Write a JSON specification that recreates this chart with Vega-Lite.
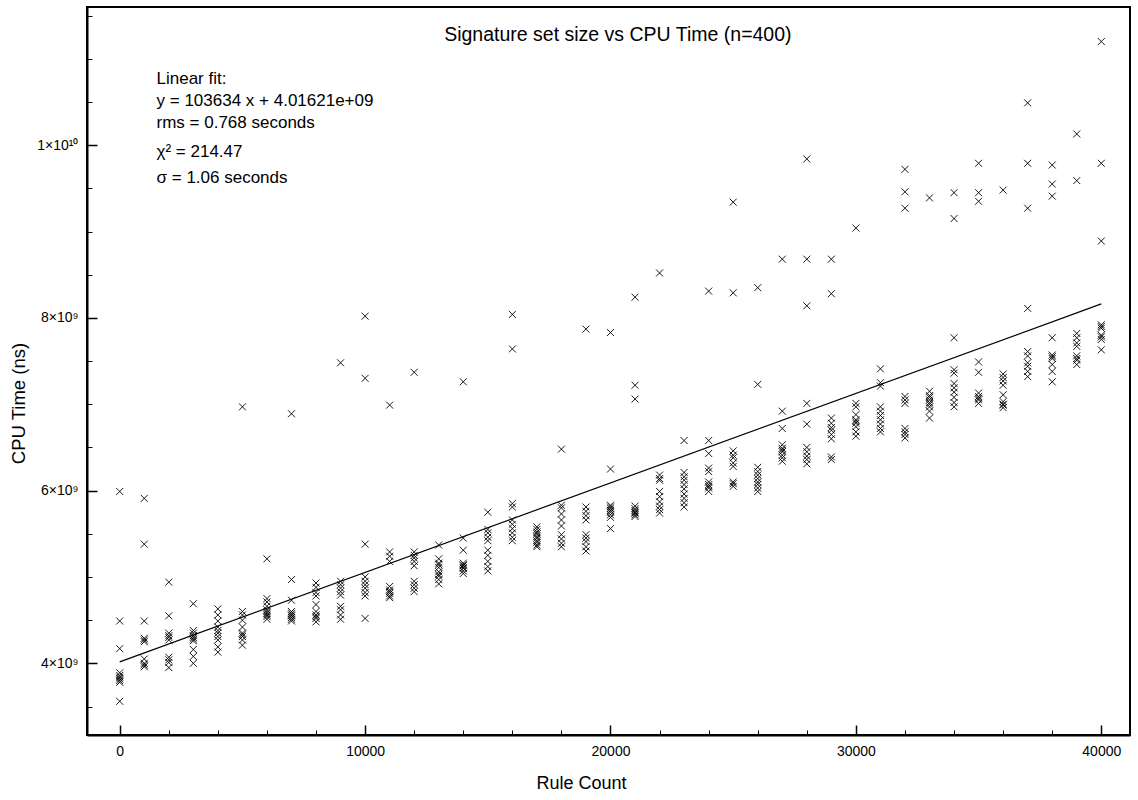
{
  "$schema": "https://vega.github.io/schema/vega-lite/v6.json",
  "width": 1043,
  "height": 728,
  "autosize": "none",
  "padding": {"left": 87, "top": 7, "right": 8, "bottom": 65},
  "background": "white",
  "config": {
    "font": "Liberation Sans",
    "view": {"stroke": "black", "strokeWidth": 2},
    "axis": {"grid": false, "labelColor": "black", "titleColor": "black", "tickColor": "black", "domainColor": "black", "labelFont": "Liberation Sans", "titleFont": "Liberation Sans", "titleFontWeight": "normal"}
  },
  "datasets": {
    "runs": [
      {"rules":0,"cpu_ns":5.99e9},{"rules":0,"cpu_ns":4.49e9},{"rules":0,"cpu_ns":4.17e9},{"rules":0,"cpu_ns":3.89e9},{"rules":0,"cpu_ns":3.86e9},{"rules":0,"cpu_ns":3.84e9},{"rules":0,"cpu_ns":3.82e9},{"rules":0,"cpu_ns":3.80e9},{"rules":0,"cpu_ns":3.78e9},{"rules":0,"cpu_ns":3.56e9},
      {"rules":1000,"cpu_ns":5.91e9},{"rules":1000,"cpu_ns":5.38e9},{"rules":1000,"cpu_ns":4.49e9},{"rules":1000,"cpu_ns":4.29e9},{"rules":1000,"cpu_ns":4.27e9},{"rules":1000,"cpu_ns":4.25e9},{"rules":1000,"cpu_ns":4.05e9},{"rules":1000,"cpu_ns":4.00e9},{"rules":1000,"cpu_ns":3.98e9},{"rules":1000,"cpu_ns":3.96e9},
      {"rules":2000,"cpu_ns":4.94e9},{"rules":2000,"cpu_ns":4.55e9},{"rules":2000,"cpu_ns":4.35e9},{"rules":2000,"cpu_ns":4.32e9},{"rules":2000,"cpu_ns":4.30e9},{"rules":2000,"cpu_ns":4.27e9},{"rules":2000,"cpu_ns":4.07e9},{"rules":2000,"cpu_ns":4.04e9},{"rules":2000,"cpu_ns":4.01e9},{"rules":2000,"cpu_ns":3.95e9},
      {"rules":3000,"cpu_ns":4.69e9},{"rules":3000,"cpu_ns":4.38e9},{"rules":3000,"cpu_ns":4.35e9},{"rules":3000,"cpu_ns":4.32e9},{"rules":3000,"cpu_ns":4.30e9},{"rules":3000,"cpu_ns":4.28e9},{"rules":3000,"cpu_ns":4.26e9},{"rules":3000,"cpu_ns":4.16e9},{"rules":3000,"cpu_ns":4.08e9},{"rules":3000,"cpu_ns":4.00e9},
      {"rules":4000,"cpu_ns":4.63e9},{"rules":4000,"cpu_ns":4.56e9},{"rules":4000,"cpu_ns":4.49e9},{"rules":4000,"cpu_ns":4.42e9},{"rules":4000,"cpu_ns":4.38e9},{"rules":4000,"cpu_ns":4.35e9},{"rules":4000,"cpu_ns":4.31e9},{"rules":4000,"cpu_ns":4.27e9},{"rules":4000,"cpu_ns":4.19e9},{"rules":4000,"cpu_ns":4.13e9},
      {"rules":5000,"cpu_ns":6.97e9},{"rules":5000,"cpu_ns":4.60e9},{"rules":5000,"cpu_ns":4.56e9},{"rules":5000,"cpu_ns":4.50e9},{"rules":5000,"cpu_ns":4.42e9},{"rules":5000,"cpu_ns":4.35e9},{"rules":5000,"cpu_ns":4.33e9},{"rules":5000,"cpu_ns":4.31e9},{"rules":5000,"cpu_ns":4.27e9},{"rules":5000,"cpu_ns":4.21e9},
      {"rules":6000,"cpu_ns":5.21e9},{"rules":6000,"cpu_ns":4.75e9},{"rules":6000,"cpu_ns":4.71e9},{"rules":6000,"cpu_ns":4.66e9},{"rules":6000,"cpu_ns":4.62e9},{"rules":6000,"cpu_ns":4.60e9},{"rules":6000,"cpu_ns":4.58e9},{"rules":6000,"cpu_ns":4.56e9},{"rules":6000,"cpu_ns":4.54e9},{"rules":6000,"cpu_ns":4.51e9},
      {"rules":7000,"cpu_ns":6.89e9},{"rules":7000,"cpu_ns":4.97e9},{"rules":7000,"cpu_ns":4.73e9},{"rules":7000,"cpu_ns":4.60e9},{"rules":7000,"cpu_ns":4.58e9},{"rules":7000,"cpu_ns":4.56e9},{"rules":7000,"cpu_ns":4.55e9},{"rules":7000,"cpu_ns":4.53e9},{"rules":7000,"cpu_ns":4.51e9},{"rules":7000,"cpu_ns":4.49e9},
      {"rules":8000,"cpu_ns":4.93e9},{"rules":8000,"cpu_ns":4.88e9},{"rules":8000,"cpu_ns":4.82e9},{"rules":8000,"cpu_ns":4.78e9},{"rules":8000,"cpu_ns":4.68e9},{"rules":8000,"cpu_ns":4.60e9},{"rules":8000,"cpu_ns":4.56e9},{"rules":8000,"cpu_ns":4.54e9},{"rules":8000,"cpu_ns":4.52e9},{"rules":8000,"cpu_ns":4.48e9},
      {"rules":9000,"cpu_ns":7.48e9},{"rules":9000,"cpu_ns":4.95e9},{"rules":9000,"cpu_ns":4.91e9},{"rules":9000,"cpu_ns":4.87e9},{"rules":9000,"cpu_ns":4.83e9},{"rules":9000,"cpu_ns":4.79e9},{"rules":9000,"cpu_ns":4.66e9},{"rules":9000,"cpu_ns":4.62e9},{"rules":9000,"cpu_ns":4.56e9},{"rules":9000,"cpu_ns":4.51e9},
      {"rules":10000,"cpu_ns":8.02e9},{"rules":10000,"cpu_ns":7.30e9},{"rules":10000,"cpu_ns":5.38e9},{"rules":10000,"cpu_ns":5.00e9},{"rules":10000,"cpu_ns":4.95e9},{"rules":10000,"cpu_ns":4.91e9},{"rules":10000,"cpu_ns":4.87e9},{"rules":10000,"cpu_ns":4.82e9},{"rules":10000,"cpu_ns":4.78e9},{"rules":10000,"cpu_ns":4.52e9},
      {"rules":11000,"cpu_ns":6.99e9},{"rules":11000,"cpu_ns":5.29e9},{"rules":11000,"cpu_ns":5.24e9},{"rules":11000,"cpu_ns":5.18e9},{"rules":11000,"cpu_ns":4.89e9},{"rules":11000,"cpu_ns":4.85e9},{"rules":11000,"cpu_ns":4.83e9},{"rules":11000,"cpu_ns":4.81e9},{"rules":11000,"cpu_ns":4.78e9},{"rules":11000,"cpu_ns":4.76e9},
      {"rules":12000,"cpu_ns":7.37e9},{"rules":12000,"cpu_ns":5.29e9},{"rules":12000,"cpu_ns":5.25e9},{"rules":12000,"cpu_ns":5.22e9},{"rules":12000,"cpu_ns":5.18e9},{"rules":12000,"cpu_ns":5.13e9},{"rules":12000,"cpu_ns":4.95e9},{"rules":12000,"cpu_ns":4.91e9},{"rules":12000,"cpu_ns":4.87e9},{"rules":12000,"cpu_ns":4.83e9},
      {"rules":13000,"cpu_ns":5.37e9},{"rules":13000,"cpu_ns":5.21e9},{"rules":13000,"cpu_ns":5.16e9},{"rules":13000,"cpu_ns":5.14e9},{"rules":13000,"cpu_ns":5.11e9},{"rules":13000,"cpu_ns":5.06e9},{"rules":13000,"cpu_ns":5.03e9},{"rules":13000,"cpu_ns":5.01e9},{"rules":13000,"cpu_ns":4.97e9},{"rules":13000,"cpu_ns":4.92e9},
      {"rules":14000,"cpu_ns":7.26e9},{"rules":14000,"cpu_ns":5.45e9},{"rules":14000,"cpu_ns":5.31e9},{"rules":14000,"cpu_ns":5.16e9},{"rules":14000,"cpu_ns":5.14e9},{"rules":14000,"cpu_ns":5.13e9},{"rules":14000,"cpu_ns":5.11e9},{"rules":14000,"cpu_ns":5.10e9},{"rules":14000,"cpu_ns":5.07e9},{"rules":14000,"cpu_ns":5.04e9},
      {"rules":15000,"cpu_ns":5.75e9},{"rules":15000,"cpu_ns":5.55e9},{"rules":15000,"cpu_ns":5.51e9},{"rules":15000,"cpu_ns":5.46e9},{"rules":15000,"cpu_ns":5.42e9},{"rules":15000,"cpu_ns":5.31e9},{"rules":15000,"cpu_ns":5.25e9},{"rules":15000,"cpu_ns":5.18e9},{"rules":15000,"cpu_ns":5.12e9},{"rules":15000,"cpu_ns":5.07e9},
      {"rules":16000,"cpu_ns":8.04e9},{"rules":16000,"cpu_ns":7.64e9},{"rules":16000,"cpu_ns":5.85e9},{"rules":16000,"cpu_ns":5.81e9},{"rules":16000,"cpu_ns":5.66e9},{"rules":16000,"cpu_ns":5.61e9},{"rules":16000,"cpu_ns":5.56e9},{"rules":16000,"cpu_ns":5.51e9},{"rules":16000,"cpu_ns":5.46e9},{"rules":16000,"cpu_ns":5.42e9},
      {"rules":17000,"cpu_ns":5.58e9},{"rules":17000,"cpu_ns":5.55e9},{"rules":17000,"cpu_ns":5.52e9},{"rules":17000,"cpu_ns":5.50e9},{"rules":17000,"cpu_ns":5.47e9},{"rules":17000,"cpu_ns":5.45e9},{"rules":17000,"cpu_ns":5.42e9},{"rules":17000,"cpu_ns":5.40e9},{"rules":17000,"cpu_ns":5.37e9},{"rules":17000,"cpu_ns":5.35e9},
      {"rules":18000,"cpu_ns":6.48e9},{"rules":18000,"cpu_ns":5.83e9},{"rules":18000,"cpu_ns":5.80e9},{"rules":18000,"cpu_ns":5.73e9},{"rules":18000,"cpu_ns":5.66e9},{"rules":18000,"cpu_ns":5.59e9},{"rules":18000,"cpu_ns":5.49e9},{"rules":18000,"cpu_ns":5.44e9},{"rules":18000,"cpu_ns":5.39e9},{"rules":18000,"cpu_ns":5.35e9},
      {"rules":19000,"cpu_ns":7.87e9},{"rules":19000,"cpu_ns":5.81e9},{"rules":19000,"cpu_ns":5.76e9},{"rules":19000,"cpu_ns":5.71e9},{"rules":19000,"cpu_ns":5.66e9},{"rules":19000,"cpu_ns":5.49e9},{"rules":19000,"cpu_ns":5.45e9},{"rules":19000,"cpu_ns":5.41e9},{"rules":19000,"cpu_ns":5.35e9},{"rules":19000,"cpu_ns":5.30e9},
      {"rules":20000,"cpu_ns":7.83e9},{"rules":20000,"cpu_ns":6.25e9},{"rules":20000,"cpu_ns":5.83e9},{"rules":20000,"cpu_ns":5.81e9},{"rules":20000,"cpu_ns":5.79e9},{"rules":20000,"cpu_ns":5.77e9},{"rules":20000,"cpu_ns":5.75e9},{"rules":20000,"cpu_ns":5.72e9},{"rules":20000,"cpu_ns":5.69e9},{"rules":20000,"cpu_ns":5.56e9},
      {"rules":21000,"cpu_ns":8.24e9},{"rules":21000,"cpu_ns":7.22e9},{"rules":21000,"cpu_ns":7.06e9},{"rules":21000,"cpu_ns":5.82e9},{"rules":21000,"cpu_ns":5.79e9},{"rules":21000,"cpu_ns":5.77e9},{"rules":21000,"cpu_ns":5.75e9},{"rules":21000,"cpu_ns":5.74e9},{"rules":21000,"cpu_ns":5.72e9},{"rules":21000,"cpu_ns":5.70e9},
      {"rules":22000,"cpu_ns":8.52e9},{"rules":22000,"cpu_ns":6.18e9},{"rules":22000,"cpu_ns":6.14e9},{"rules":22000,"cpu_ns":6.12e9},{"rules":22000,"cpu_ns":5.99e9},{"rules":22000,"cpu_ns":5.93e9},{"rules":22000,"cpu_ns":5.87e9},{"rules":22000,"cpu_ns":5.82e9},{"rules":22000,"cpu_ns":5.78e9},{"rules":22000,"cpu_ns":5.74e9},
      {"rules":23000,"cpu_ns":6.58e9},{"rules":23000,"cpu_ns":6.21e9},{"rules":23000,"cpu_ns":6.16e9},{"rules":23000,"cpu_ns":6.12e9},{"rules":23000,"cpu_ns":6.07e9},{"rules":23000,"cpu_ns":6.02e9},{"rules":23000,"cpu_ns":5.96e9},{"rules":23000,"cpu_ns":5.91e9},{"rules":23000,"cpu_ns":5.86e9},{"rules":23000,"cpu_ns":5.81e9},
      {"rules":24000,"cpu_ns":8.31e9},{"rules":24000,"cpu_ns":6.58e9},{"rules":24000,"cpu_ns":6.43e9},{"rules":24000,"cpu_ns":6.26e9},{"rules":24000,"cpu_ns":6.22e9},{"rules":24000,"cpu_ns":6.10e9},{"rules":24000,"cpu_ns":6.07e9},{"rules":24000,"cpu_ns":6.05e9},{"rules":24000,"cpu_ns":6.03e9},{"rules":24000,"cpu_ns":5.99e9},
      {"rules":25000,"cpu_ns":9.34e9},{"rules":25000,"cpu_ns":8.29e9},{"rules":25000,"cpu_ns":6.46e9},{"rules":25000,"cpu_ns":6.41e9},{"rules":25000,"cpu_ns":6.38e9},{"rules":25000,"cpu_ns":6.32e9},{"rules":25000,"cpu_ns":6.28e9},{"rules":25000,"cpu_ns":6.10e9},{"rules":25000,"cpu_ns":6.08e9},{"rules":25000,"cpu_ns":6.05e9},
      {"rules":26000,"cpu_ns":8.35e9},{"rules":26000,"cpu_ns":7.23e9},{"rules":26000,"cpu_ns":6.27e9},{"rules":26000,"cpu_ns":6.22e9},{"rules":26000,"cpu_ns":6.18e9},{"rules":26000,"cpu_ns":6.14e9},{"rules":26000,"cpu_ns":6.10e9},{"rules":26000,"cpu_ns":6.07e9},{"rules":26000,"cpu_ns":6.03e9},{"rules":26000,"cpu_ns":5.99e9},
      {"rules":27000,"cpu_ns":8.68e9},{"rules":27000,"cpu_ns":6.92e9},{"rules":27000,"cpu_ns":6.72e9},{"rules":27000,"cpu_ns":6.53e9},{"rules":27000,"cpu_ns":6.49e9},{"rules":27000,"cpu_ns":6.47e9},{"rules":27000,"cpu_ns":6.45e9},{"rules":27000,"cpu_ns":6.41e9},{"rules":27000,"cpu_ns":6.38e9},{"rules":27000,"cpu_ns":6.34e9},
      {"rules":28000,"cpu_ns":9.84e9},{"rules":28000,"cpu_ns":8.68e9},{"rules":28000,"cpu_ns":8.14e9},{"rules":28000,"cpu_ns":7.01e9},{"rules":28000,"cpu_ns":6.77e9},{"rules":28000,"cpu_ns":6.50e9},{"rules":28000,"cpu_ns":6.45e9},{"rules":28000,"cpu_ns":6.40e9},{"rules":28000,"cpu_ns":6.36e9},{"rules":28000,"cpu_ns":6.31e9},
      {"rules":29000,"cpu_ns":8.68e9},{"rules":29000,"cpu_ns":8.28e9},{"rules":29000,"cpu_ns":6.84e9},{"rules":29000,"cpu_ns":6.78e9},{"rules":29000,"cpu_ns":6.73e9},{"rules":29000,"cpu_ns":6.70e9},{"rules":29000,"cpu_ns":6.65e9},{"rules":29000,"cpu_ns":6.60e9},{"rules":29000,"cpu_ns":6.39e9},{"rules":29000,"cpu_ns":6.36e9},
      {"rules":30000,"cpu_ns":9.04e9},{"rules":30000,"cpu_ns":7.01e9},{"rules":30000,"cpu_ns":6.97e9},{"rules":30000,"cpu_ns":6.88e9},{"rules":30000,"cpu_ns":6.82e9},{"rules":30000,"cpu_ns":6.80e9},{"rules":30000,"cpu_ns":6.78e9},{"rules":30000,"cpu_ns":6.74e9},{"rules":30000,"cpu_ns":6.68e9},{"rules":30000,"cpu_ns":6.63e9},
      {"rules":31000,"cpu_ns":7.41e9},{"rules":31000,"cpu_ns":7.25e9},{"rules":31000,"cpu_ns":7.21e9},{"rules":31000,"cpu_ns":6.97e9},{"rules":31000,"cpu_ns":6.92e9},{"rules":31000,"cpu_ns":6.87e9},{"rules":31000,"cpu_ns":6.82e9},{"rules":31000,"cpu_ns":6.77e9},{"rules":31000,"cpu_ns":6.72e9},{"rules":31000,"cpu_ns":6.68e9},
      {"rules":32000,"cpu_ns":9.72e9},{"rules":32000,"cpu_ns":9.46e9},{"rules":32000,"cpu_ns":9.27e9},{"rules":32000,"cpu_ns":7.09e9},{"rules":32000,"cpu_ns":7.05e9},{"rules":32000,"cpu_ns":7.01e9},{"rules":32000,"cpu_ns":6.72e9},{"rules":32000,"cpu_ns":6.68e9},{"rules":32000,"cpu_ns":6.65e9},{"rules":32000,"cpu_ns":6.61e9},
      {"rules":33000,"cpu_ns":9.39e9},{"rules":33000,"cpu_ns":7.15e9},{"rules":33000,"cpu_ns":7.10e9},{"rules":33000,"cpu_ns":7.08e9},{"rules":33000,"cpu_ns":7.05e9},{"rules":33000,"cpu_ns":7.02e9},{"rules":33000,"cpu_ns":7.00e9},{"rules":33000,"cpu_ns":6.97e9},{"rules":33000,"cpu_ns":6.92e9},{"rules":33000,"cpu_ns":6.84e9},
      {"rules":34000,"cpu_ns":9.45e9},{"rules":34000,"cpu_ns":9.15e9},{"rules":34000,"cpu_ns":7.77e9},{"rules":34000,"cpu_ns":7.40e9},{"rules":34000,"cpu_ns":7.36e9},{"rules":34000,"cpu_ns":7.24e9},{"rules":34000,"cpu_ns":7.19e9},{"rules":34000,"cpu_ns":7.14e9},{"rules":34000,"cpu_ns":7.08e9},{"rules":34000,"cpu_ns":7.02e9},{"rules":34000,"cpu_ns":6.97e9},
      {"rules":35000,"cpu_ns":9.79e9},{"rules":35000,"cpu_ns":9.45e9},{"rules":35000,"cpu_ns":9.35e9},{"rules":35000,"cpu_ns":7.49e9},{"rules":35000,"cpu_ns":7.37e9},{"rules":35000,"cpu_ns":7.13e9},{"rules":35000,"cpu_ns":7.09e9},{"rules":35000,"cpu_ns":7.07e9},{"rules":35000,"cpu_ns":7.05e9},{"rules":35000,"cpu_ns":7.01e9},
      {"rules":36000,"cpu_ns":9.48e9},{"rules":36000,"cpu_ns":7.35e9},{"rules":36000,"cpu_ns":7.31e9},{"rules":36000,"cpu_ns":7.27e9},{"rules":36000,"cpu_ns":7.22e9},{"rules":36000,"cpu_ns":7.11e9},{"rules":36000,"cpu_ns":7.03e9},{"rules":36000,"cpu_ns":7.00e9},{"rules":36000,"cpu_ns":6.99e9},{"rules":36000,"cpu_ns":6.96e9},
      {"rules":37000,"cpu_ns":10.49e9},{"rules":37000,"cpu_ns":9.79e9},{"rules":37000,"cpu_ns":9.27e9},{"rules":37000,"cpu_ns":8.11e9},{"rules":37000,"cpu_ns":7.61e9},{"rules":37000,"cpu_ns":7.56e9},{"rules":37000,"cpu_ns":7.48e9},{"rules":37000,"cpu_ns":7.44e9},{"rules":37000,"cpu_ns":7.38e9},{"rules":37000,"cpu_ns":7.32e9},
      {"rules":38000,"cpu_ns":9.77e9},{"rules":38000,"cpu_ns":9.55e9},{"rules":38000,"cpu_ns":9.41e9},{"rules":38000,"cpu_ns":7.77e9},{"rules":38000,"cpu_ns":7.57e9},{"rules":38000,"cpu_ns":7.55e9},{"rules":38000,"cpu_ns":7.53e9},{"rules":38000,"cpu_ns":7.46e9},{"rules":38000,"cpu_ns":7.38e9},{"rules":38000,"cpu_ns":7.26e9},
      {"rules":39000,"cpu_ns":10.13e9},{"rules":39000,"cpu_ns":9.59e9},{"rules":39000,"cpu_ns":7.82e9},{"rules":39000,"cpu_ns":7.77e9},{"rules":39000,"cpu_ns":7.71e9},{"rules":39000,"cpu_ns":7.67e9},{"rules":39000,"cpu_ns":7.56e9},{"rules":39000,"cpu_ns":7.53e9},{"rules":39000,"cpu_ns":7.51e9},{"rules":39000,"cpu_ns":7.46e9},
      {"rules":40000,"cpu_ns":11.20e9},{"rules":40000,"cpu_ns":9.79e9},{"rules":40000,"cpu_ns":8.89e9},{"rules":40000,"cpu_ns":7.92e9},{"rules":40000,"cpu_ns":7.90e9},{"rules":40000,"cpu_ns":7.88e9},{"rules":40000,"cpu_ns":7.80e9},{"rules":40000,"cpu_ns":7.78e9},{"rules":40000,"cpu_ns":7.75e9},{"rules":40000,"cpu_ns":7.63e9}
    ],
    "fit": [
      {"rules": 0, "fit_ns": 4.01621e9},
      {"rules": 40000, "fit_ns": 8.16157e9}
    ]
  },
  "layer": [
    {
      "data": {"name": "runs"},
      "mark": {"type": "point", "shape": "M-1,-1L1,1M-1,1L1,-1", "filled": false, "stroke": "black", "strokeWidth": 0.9, "size": 49, "opacity": 1},
      "encoding": {
        "x": {"field": "rules", "type": "quantitative", "scale": {"domain": [-1333, 41170], "nice": false, "zero": false},
          "axis": {"orient": "bottom", "values": [0, 10000, 20000, 30000, 40000], "format": "d", "tickSize": -10, "tickWidth": 1.5, "labelPadding": 19, "labelFontSize": 14, "domainWidth": 2, "title": "Rule Count", "titleFontSize": 18, "titleX": 494, "titleY": 48, "titleBaseline": "middle", "titleAnchor": "start", "titleAlign": "center"}},
        "y": {"field": "cpu_ns", "type": "quantitative", "scale": {"domain": [3.17e9, 11.6e9], "nice": false, "zero": false},
          "axis": {"orient": "left", "values": [4e9, 6e9, 8e9, 1e10], "labelExpr": "datum.value >= 1e10 ? '1×10¹⁰' : format(datum.value / 1e9, 'd') + '×10⁹'", "tickSize": -10, "tickWidth": 1.5, "labelPadding": 19, "labelFontSize": 14, "domainWidth": 2, "title": "CPU Time (ns)", "titleFontSize": 18.5, "titleX": -69, "titleY": 396, "titleBaseline": "middle", "titleAngle": -90, "titleAlign": "center"}}
      }
    },
    {
      "data": {"name": "fit"},
      "mark": {"type": "line", "color": "black", "strokeWidth": 1.2},
      "encoding": {
        "x": {"field": "rules", "type": "quantitative", "scale": {"domain": [-1333, 41170], "nice": false, "zero": false},
          "axis": {"orient": "bottom", "values": [0,2000,4000,6000,8000,10000,12000,14000,16000,18000,20000,22000,24000,26000,28000,30000,32000,34000,36000,38000,40000], "labels": false, "domain": false, "tickSize": -5, "tickWidth": 1, "title": null}},
        "y": {"field": "fit_ns", "type": "quantitative", "scale": {"domain": [3.17e9, 11.6e9], "nice": false, "zero": false},
          "axis": {"orient": "left", "values": [3.5e9,4e9,4.5e9,5e9,5.5e9,6e9,6.5e9,7e9,7.5e9,8e9,8.5e9,9e9,9.5e9,1e10,10.5e9,11e9,11.5e9], "labels": false, "domain": false, "tickSize": -5, "tickWidth": 1, "title": null}}
      }
    },
    {
      "data": {"values": [{}]},
      "mark": {"type": "text", "text": "Signature set size vs CPU Time (n=400)", "font": "Liberation Sans", "fontSize": 19.5, "color": "black", "align": "center", "baseline": "middle"},
      "encoding": {
        "x": {"datum": 20300, "type": "quantitative", "axis": null},
        "y": {"datum": 11.28e9, "type": "quantitative", "axis": null}
      }
    },
    {
      "data": {"values": [{}]},
      "mark": {"type": "text", "text": ["Linear fit:", "y = 103634 x + 4.01621e+09", "rms = 0.768 seconds"], "font": "Liberation Sans", "fontSize": 17, "lineHeight": 22, "color": "black", "align": "left", "baseline": "alphabetic"},
      "encoding": {
        "x": {"datum": 1500, "type": "quantitative", "axis": null},
        "y": {"datum": 10.71e9, "type": "quantitative", "axis": null}
      }
    },
    {
      "data": {"values": [{}]},
      "mark": {"type": "text", "text": ["χ² = 214.47", "σ = 1.06 seconds"], "font": "Liberation Sans", "fontSize": 17, "lineHeight": 26, "color": "black", "align": "left", "baseline": "alphabetic"},
      "encoding": {
        "x": {"datum": 1500, "type": "quantitative", "axis": null},
        "y": {"datum": 9.86e9, "type": "quantitative", "axis": null}
      }
    }
  ],
  "resolve": {"axis": {"x": "independent", "y": "independent"}}
}
